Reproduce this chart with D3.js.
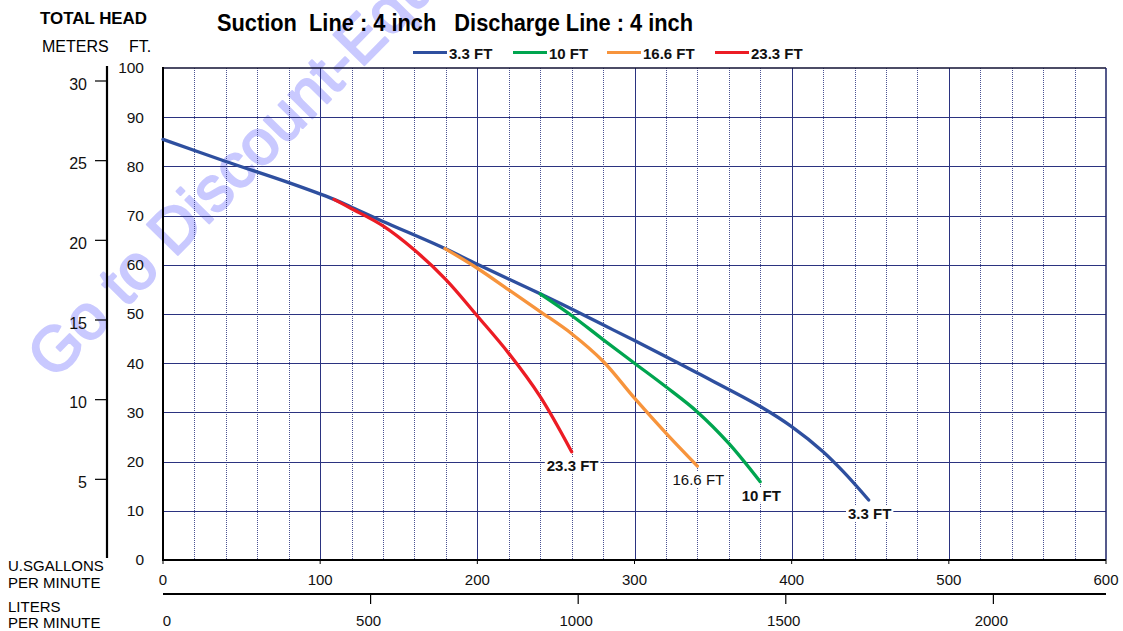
<!DOCTYPE html>
<html>
<head>
<meta charset="utf-8">
<script src="https://cdn.jsdelivr.net/npm/d3@7"></script>
<style>
  html, body { margin: 0; padding: 0; background: #fff; }
  svg { display: block; font-family: "Liberation Sans", Arial, sans-serif; }
</style>
</head>
<body>
<svg id="chart" width="1123" height="631"></svg>
<script>
// ---- data ----
const seriesNames = ["3.3 FT", "10 FT", "16.6 FT", "23.3 FT"];
const gpm33  = [0, 40, 80, 108.8, 120, 140, 179.4, 200, 240, 260, 280, 300, 340, 380, 400, 420, 433, 449];
const head33 = [85.5, 81.0, 76.7, 73.3, 71.7, 68.8, 63.3, 60.1, 54.1, 51.0, 47.8, 44.6, 38.0, 31.2, 27.1, 22.0, 17.9, 12.2];
const gpm10  = [240, 260, 280, 300, 320, 340, 360, 380];
const head10 = [54.1, 49.7, 44.8, 40.0, 35.2, 30.1, 23.7, 15.9];
const gpm166  = [179.4, 200, 220, 240, 260, 280, 300, 320, 340];
const head166 = [63.3, 59.3, 54.9, 50.5, 46.0, 40.4, 32.9, 25.8, 19.1];
const gpm233  = [108.8, 120, 140, 160, 180, 200, 220, 240, 260];
const head233 = [73.3, 71.4, 67.9, 63.0, 57.0, 49.6, 42.0, 33.2, 22.0];
const gpmTicks = [0, 100, 200, 300, 400, 500, 600];
const ftTicks = [0, 10, 20, 30, 40, 50, 60, 70, 80, 90, 100];
const meterTicks = [5, 10, 15, 20, 25, 30];
const literTicks = [0, 500, 1000, 1500, 2000];
const titleText = "Suction\u00a0\u00a0Line : 4 inch\u00a0\u00a0\u00a0Discharge Line : 4 inch";
const watermarkText = "Go to Discount-Equipment.com";

// ---- layout ----
const svg = d3.select("#chart");
const L = 163, R = 1106, T = 68, B = 560;
const x = d3.scaleLinear().domain([0, 600]).range([L, R]);
const y = d3.scaleLinear().domain([0, 100]).range([B, T]);
const yM = d3.scaleLinear().domain([0, 30]).range([559, 81]);
const xL = d3.scaleLinear().domain([0, 600 * 3.78541]).range([L, R]);

const colors = { "3.3 FT": "#2e4f9f", "10 FT": "#00a54f", "16.6 FT": "#f7943c", "23.3 FT": "#ec1c24" };
const gridColor = "#2b3380";

const series = [
  { name: "3.3 FT", g: gpm33, h: head33, bold: true },
  { name: "10 FT", g: gpm10, h: head10, bold: true },
  { name: "16.6 FT", g: gpm166, h: head166, bold: false },
  { name: "23.3 FT", g: gpm233, h: head233, bold: true }
];

// watermark (beneath everything)
svg.append("text").attr("transform", "translate(54,381) rotate(-45.5)")
  .attr("font-size", 63).attr("fill", "#c9c9ff").attr("stroke", "#c9c9ff").attr("stroke-width", 2.2)
  .attr("stroke-linejoin", "round")
  .text(watermarkText);

// ---- grid ----
const grid = svg.append("g");
const minor = d3.range(0, 601, 20).filter(v => v % 100 !== 0 && v < 600);
grid.selectAll("line.minor").data(minor).join("line")
  .attr("x1", d => Math.round(x(d)) + 0.5).attr("x2", d => Math.round(x(d)) + 0.5)
  .attr("y1", T).attr("y2", B)
  .attr("stroke", gridColor).attr("stroke-width", 1).attr("stroke-dasharray", "1,1").attr("opacity", 0.85);
grid.selectAll("line.major").data([100, 200, 300, 400, 500]).join("line")
  .attr("x1", d => Math.round(x(d)) + 0.5).attr("x2", d => Math.round(x(d)) + 0.5)
  .attr("y1", T).attr("y2", B)
  .attr("stroke", gridColor).attr("stroke-width", 1);
grid.selectAll("line.h").data(ftTicks.filter(d => d > 0 && d < 100)).join("line")
  .attr("x1", L).attr("x2", R)
  .attr("y1", d => Math.round(y(d)) + 0.5).attr("y2", d => Math.round(y(d)) + 0.5)
  .attr("stroke", gridColor).attr("stroke-width", 1);

// frame
svg.append("line").attr("x1", L).attr("x2", R).attr("y1", T).attr("y2", T).attr("stroke", "#111133").attr("stroke-width", 1.5);
svg.append("line").attr("x1", R).attr("x2", R).attr("y1", T).attr("y2", B).attr("stroke", "#1d2366").attr("stroke-width", 1.5);
svg.append("line").attr("x1", L).attr("x2", L).attr("y1", T - 1).attr("y2", B + 1).attr("stroke", "#000").attr("stroke-width", 2);
svg.append("line").attr("x1", L).attr("x2", R).attr("y1", B).attr("y2", B).attr("stroke", "#000").attr("stroke-width", 2);

// ---- axes ----
svg.append("g").selectAll("text").data(ftTicks).join("text")
  .attr("x", 144).attr("y", d => y(d)).attr("dy", "0.35em")
  .attr("text-anchor", "end").attr("font-size", 15.5).attr("fill", "#111")
  .text(d => d);

svg.append("line").attr("x1", 107).attr("x2", 107).attr("y1", 66).attr("y2", 558)
  .attr("stroke", "#000").attr("stroke-width", 2.2);
const mAxis = svg.append("g");
mAxis.selectAll("line").data(meterTicks).join("line")
  .attr("x1", 95).attr("x2", 107).attr("y1", d => yM(d)).attr("y2", d => yM(d))
  .attr("stroke", "#000").attr("stroke-width", 1.2);
mAxis.selectAll("text").data(meterTicks).join("text")
  .attr("x", 87).attr("y", d => yM(d) + 3).attr("dy", "0.35em")
  .attr("text-anchor", "end").attr("font-size", 16).attr("fill", "#111")
  .text(d => d);

const gAx = svg.append("g");
gAx.selectAll("line").data(gpmTicks).join("line")
  .attr("x1", d => x(d)).attr("x2", d => x(d)).attr("y1", B).attr("y2", B + 4)
  .attr("stroke", "#000").attr("stroke-width", 1);
gAx.selectAll("text").data(gpmTicks).join("text")
  .attr("x", d => x(d)).attr("y", 585)
  .attr("text-anchor", "middle").attr("font-size", 15).attr("fill", "#111")
  .text(d => d);

svg.append("line").attr("x1", L).attr("x2", R).attr("y1", 594).attr("y2", 594)
  .attr("stroke", "#000").attr("stroke-width", 2.2);
const lAx = svg.append("g");
lAx.selectAll("line").data(literTicks.filter(d => d > 0)).join("line")
  .attr("x1", d => xL(d)).attr("x2", d => xL(d)).attr("y1", 594).attr("y2", 604)
  .attr("stroke", "#000").attr("stroke-width", 1.2);
lAx.selectAll("text").data(literTicks).join("text")
  .attr("x", d => xL(d) + (d === 0 ? 4 : -2)).attr("y", 626)
  .attr("text-anchor", "middle").attr("font-size", 15).attr("fill", "#111")
  .text(d => d);

svg.append("text").attr("x", 40).attr("y", 24).attr("font-size", 17).attr("font-weight", "bold")
  .attr("textLength", 107).attr("lengthAdjust", "spacingAndGlyphs").text("TOTAL HEAD");
svg.append("text").attr("x", 42).attr("y", 52).attr("font-size", 16).text("METERS");
svg.append("text").attr("x", 129).attr("y", 52).attr("font-size", 16).text("FT.");
svg.append("text").attr("x", 8).attr("y", 571).attr("font-size", 15).text("U.SGALLONS");
svg.append("text").attr("x", 8).attr("y", 588).attr("font-size", 15).text("PER MINUTE");
svg.append("text").attr("x", 8).attr("y", 612).attr("font-size", 15).text("LITERS");
svg.append("text").attr("x", 8).attr("y", 628).attr("font-size", 15).text("PER MINUTE");

svg.append("text").attr("x", 217).attr("y", 31).attr("font-size", 23.5).attr("font-weight", "bold")
  .attr("textLength", 476).attr("lengthAdjust", "spacingAndGlyphs").text(titleText);

const legX = [413, 513, 607, 715];
const legend = svg.append("g");
seriesNames.forEach((n, i) => {
  legend.append("line").attr("x1", legX[i]).attr("x2", legX[i] + 34).attr("y1", 52.5).attr("y2", 52.5)
    .attr("stroke", colors[n]).attr("stroke-width", 3);
  legend.append("text").attr("x", legX[i] + 36).attr("y", 58.5).attr("font-size", 15)
    .attr("font-weight", "bold").attr("fill", "#111").text(n);
});

// ---- curves ----
const line = d3.line().x(d => x(d[0])).y(d => y(d[1])).curve(d3.curveCatmullRom.alpha(0.5));
seriesNames.forEach(n => {
  const s = series.find(v => v.name === n);
  const pts = s.g.map((g, i) => [g, s.h[i]]);
  svg.append("path").datum(pts).attr("d", line)
    .attr("fill", "none").attr("stroke", colors[n]).attr("stroke-width", 3.3)
    .attr("stroke-linecap", "round").attr("stroke-linejoin", "round");
});

// end labels
series.forEach(s => {
  const n = s.g.length - 1;
  const cx = x(s.g[n]) + 1, cy = y(s.h[n]) + 19;
  const g = svg.append("g");
  const t = g.append("text").attr("x", cx).attr("y", cy).attr("text-anchor", "middle")
    .attr("font-size", 15).attr("font-weight", s.bold ? "bold" : "normal").attr("fill", "#111")
    .text(s.name);
  const bb = t.node().getBBox();
  g.insert("rect", "text").attr("x", bb.x - 2).attr("y", bb.y + 1).attr("width", bb.width + 4)
    .attr("height", bb.height - 2).attr("fill", "#fff");
});
</script>
</body>
</html>
